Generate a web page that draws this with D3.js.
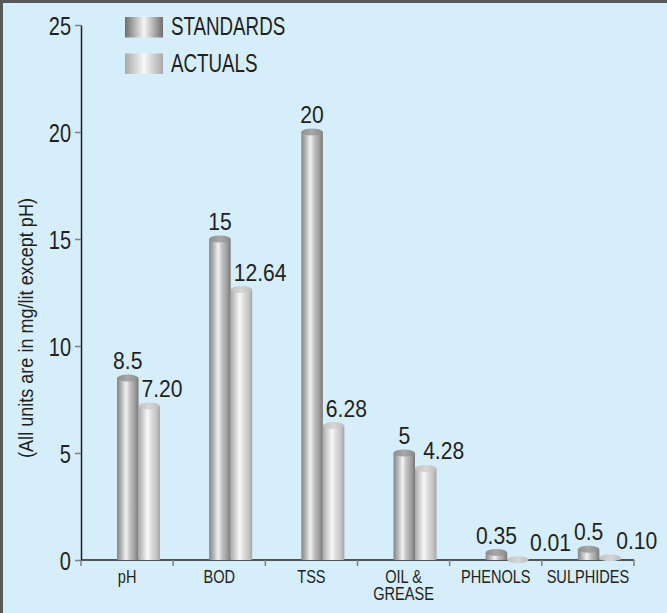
<!DOCTYPE html>
<html><head><meta charset="utf-8">
<script src="https://cdn.jsdelivr.net/npm/d3@7"></script>
<style>
body{margin:0;background:#d5eef9}
svg{display:block}
text{font-family:"Liberation Sans",Arial,sans-serif;fill:#231f20}
</style>
</head><body>
<svg id="c" width="667" height="613"></svg>
<script>
const categories=["pH","BOD","TSS","OIL & GREASE","PHENOLS","SULPHIDES"];
const standards=[8.5,15,20,5,0.35,0.5];
const actuals=[7.20,12.64,6.28,4.28,0.01,0.10];
const standardLabels=["8.5","15","20","5","0.35","0.5"];
const actualLabels=["7.20","12.64","6.28","4.28","0.01","0.10"];
const yTicks=[0,5,10,15,20,25];
const seriesNames=["STANDARDS","ACTUALS"];
const yTitle="(All units are in mg/lit except pH)";

const W=667,H=613;
const svg=d3.select("#c");
svg.append("rect").attr("width",W).attr("height",H).attr("fill","#d5eef9");
svg.append("path").attr("d",`M1.5,${H} V1.5 H${W}`).attr("fill","none").attr("stroke","#58595b").attr("stroke-width",3);

// condensed text helper (horizontal squeeze of a regular sans face)
function txt(parent,x0,y0,s,size,sx,anchor){
  return parent.append("text").attr("transform",`translate(${x0},${y0}) scale(${sx},1)`)
    .attr("font-size",size).attr("text-anchor",anchor||"start").text(s);
}

const defs=svg.append("defs");
function grad(id,stops){
  const g=defs.append("linearGradient").attr("id",id).attr("x1","0").attr("x2","1").attr("y1","0").attr("y2","0");
  stops.forEach(s=>g.append("stop").attr("offset",s[0]).attr("stop-color",s[1]));
}
grad("gS",[["0%","#858585"],["20%","#b4b4b4"],["42%","#f2f2f2"],["60%","#c2c2c2"],["85%","#9a9a9a"],["100%","#767676"]]);
grad("gA",[["0%","#a9a9a9"],["20%","#cfcfcf"],["42%","#f8f8f8"],["60%","#dedede"],["85%","#c2c2c2"],["100%","#a4a4a4"]]);
grad("cS",[["0%","#8e8e8e"],["50%","#a8a8a8"],["100%","#8a8a8a"]]);
grad("cA",[["0%","#c0c0c0"],["50%","#d6d6d6"],["100%","#bdbdbd"]]);
grad("lS",[["0%","#6e6e6e"],["50%","#f5f5f5"],["100%","#6e6e6e"]]);
grad("lA",[["0%","#a8a8a8"],["50%","#f8f8f8"],["100%","#a8a8a8"]]);
const bodyFill={STANDARDS:"url(#gS)",ACTUALS:"url(#gA)"};
const capFill={STANDARDS:"url(#cS)",ACTUALS:"url(#cA)"};
const legFill={STANDARDS:"url(#lS)",ACTUALS:"url(#lA)"};

const x=d3.scaleBand().domain(categories).range([81,634]).padding(0);
const xs=d3.scaleBand().domain(seriesNames).range([36,79]).padding(0);
const y=d3.scaleLinear().domain([0,25]).range([560,25]);

// y axis
const ya=svg.append("g").attr("transform","translate(81,0)")
  .call(d3.axisLeft(y).tickValues(yTicks).tickSize(6).tickSizeOuter(0).tickPadding(4).tickFormat(d3.format("d")));
ya.select(".domain").attr("stroke","#231f20").attr("stroke-width",1.5);
ya.selectAll(".tick line").attr("stroke","#808080").attr("stroke-width",1.5);
ya.selectAll(".tick text").remove();
ya.selectAll(".tick").each(function(d){ txt(d3.select(this),-10,9,d3.format("d")(d),25,0.8,"end"); });

// x axis line and ticks at band edges
svg.append("line").attr("x1",x.range()[0]).attr("x2",x.range()[1]).attr("y1",y(0)).attr("y2",y(0))
  .attr("stroke","#231f20").attr("stroke-width",1.5);
const edges=categories.map(c=>x(c)).concat([x.range()[1]]);
svg.selectAll(".xt").data(edges).join("line").attr("x1",d=>d).attr("x2",d=>d)
  .attr("y1",y(0)).attr("y2",y(0)+6).attr("stroke","#808080").attr("stroke-width",1.5);
function wrap(s){ if(s.length>10){const i=s.lastIndexOf(" ");return [s.slice(0,i),s.slice(i+1)];} return [s]; }
categories.forEach(c=>{
  wrap(c).forEach((l,i)=>txt(svg,x(c)+x.bandwidth()/2,583+i*17,l,18,0.81,"middle"));
});

// bars
const ry=3.5;
const series=[{name:"STANDARDS",vals:standards},{name:"ACTUALS",vals:actuals}];
series.forEach(s=>{
  const g=svg.append("g");
  categories.forEach((c,i)=>{
    const x0=x(c)+xs(s.name), w=xs.bandwidth(), v=s.vals[i];
    g.append("rect").attr("x",x0).attr("y",y(v)).attr("width",w).attr("height",y(0)-y(v)).attr("fill",bodyFill[s.name]);
    g.append("ellipse").attr("cx",x0+w/2).attr("cy",y(v)).attr("rx",w/2).attr("ry",ry).attr("fill",capFill[s.name]);
  });
});
// value labels
const lfs=24, lsx=0.88;
const stdRight=[];
categories.forEach((c,i)=>{
  const cx=x(c)+xs("STANDARDS")+xs.bandwidth()/2;
  const t=txt(svg,cx,y(standards[i])-9,standardLabels[i],lfs,lsx,"middle");
  stdRight.push(cx+t.node().getComputedTextLength()*lsx/2);
});
categories.forEach((c,i)=>{
  const bx=x(c)+xs("ACTUALS");
  const ya2=y(actuals[i])-9, ys=y(standards[i])-9;
  let lx=bx+3;
  if(Math.abs(ya2-ys)<20) lx=Math.max(lx,stdRight[i]+13);
  txt(svg,lx,ya2,actualLabels[i],lfs,lsx,"start");
});

// legend
seriesNames.forEach((n,i)=>{
  svg.append("rect").attr("x",125).attr("y",17+i*36.5).attr("width",38).attr("height",20.5).attr("fill",legFill[n]);
  txt(svg,171,35+i*36.5,n,25,0.75,"start");
});

// y title
const tt=svg.append("text").attr("font-size",20).text(yTitle);
const tl=tt.node().getComputedTextLength();
tt.attr("text-anchor","middle").attr("transform",`translate(33,328) rotate(-90) scale(${260/tl},1)`);
</script>
</body></html>
